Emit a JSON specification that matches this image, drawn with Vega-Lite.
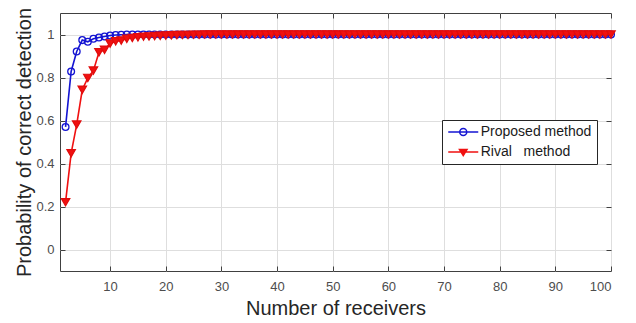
{
  "$schema": "https://vega.github.io/schema/vega-lite/v6.json",
  "autosize": "none",
  "width": 551,
  "height": 258,
  "padding": {"left": 60, "top": 13, "right": 25, "bottom": 52},
  "background": "white",
  "config": {
    "font": "Liberation Sans",
    "view": {"stroke": "#404040", "strokeWidth": 1},
    "legend": {"orient": "none", "legendX": 382, "legendY": 107, "symbolSize": 100, "symbolStrokeWidth": 1.5, "symbolOpacity": 1, "symbolOffset": 9.25, "labelFont": "Liberation Sans", "labelFontSize": 14, "labelColor": "#1a1a1a", "strokeColor": "#262626", "fillColor": "white", "padding": 5, "rowPadding": 6, "labelOffset": 10.5}
  },
  "data": {"values": [
    {"n": 2, "Proposed method": 0.57, "Rival\u00a0\u00a0\u00a0method": 0.22},
    {"n": 3, "Proposed method": 0.828, "Rival\u00a0\u00a0\u00a0method": 0.447},
    {"n": 4, "Proposed method": 0.921, "Rival\u00a0\u00a0\u00a0method": 0.581},
    {"n": 5, "Proposed method": 0.974, "Rival\u00a0\u00a0\u00a0method": 0.743},
    {"n": 6, "Proposed method": 0.966, "Rival\u00a0\u00a0\u00a0method": 0.798},
    {"n": 7, "Proposed method": 0.98, "Rival\u00a0\u00a0\u00a0method": 0.832},
    {"n": 8, "Proposed method": 0.986, "Rival\u00a0\u00a0\u00a0method": 0.917},
    {"n": 9, "Proposed method": 0.991, "Rival\u00a0\u00a0\u00a0method": 0.929},
    {"n": 10, "Proposed method": 0.995, "Rival\u00a0\u00a0\u00a0method": 0.958},
    {"n": 11, "Proposed method": 0.998, "Rival\u00a0\u00a0\u00a0method": 0.968},
    {"n": 12, "Proposed method": 0.999, "Rival\u00a0\u00a0\u00a0method": 0.972},
    {"n": 13, "Proposed method": 1, "Rival\u00a0\u00a0\u00a0method": 0.98},
    {"n": 14, "Proposed method": 1, "Rival\u00a0\u00a0\u00a0method": 0.984},
    {"n": 15, "Proposed method": 1, "Rival\u00a0\u00a0\u00a0method": 0.987},
    {"n": 16, "Proposed method": 1, "Rival\u00a0\u00a0\u00a0method": 0.99},
    {"n": 17, "Proposed method": 1, "Rival\u00a0\u00a0\u00a0method": 0.991},
    {"n": 18, "Proposed method": 1, "Rival\u00a0\u00a0\u00a0method": 0.993},
    {"n": 19, "Proposed method": 1, "Rival\u00a0\u00a0\u00a0method": 0.994},
    {"n": 20, "Proposed method": 1, "Rival\u00a0\u00a0\u00a0method": 0.995},
    {"n": 21, "Proposed method": 1, "Rival\u00a0\u00a0\u00a0method": 0.996},
    {"n": 22, "Proposed method": 1, "Rival\u00a0\u00a0\u00a0method": 0.997},
    {"n": 23, "Proposed method": 1, "Rival\u00a0\u00a0\u00a0method": 0.998},
    {"n": 24, "Proposed method": 1, "Rival\u00a0\u00a0\u00a0method": 0.998},
    {"n": 25, "Proposed method": 1, "Rival\u00a0\u00a0\u00a0method": 0.999},
    {"n": 26, "Proposed method": 1, "Rival\u00a0\u00a0\u00a0method": 0.999},
    {"n": 27, "Proposed method": 1, "Rival\u00a0\u00a0\u00a0method": 1},
    {"n": 28, "Proposed method": 1, "Rival\u00a0\u00a0\u00a0method": 1},
    {"n": 29, "Proposed method": 1, "Rival\u00a0\u00a0\u00a0method": 1},
    {"n": 30, "Proposed method": 1, "Rival\u00a0\u00a0\u00a0method": 1},
    {"n": 31, "Proposed method": 1, "Rival\u00a0\u00a0\u00a0method": 1},
    {"n": 32, "Proposed method": 1, "Rival\u00a0\u00a0\u00a0method": 1},
    {"n": 33, "Proposed method": 1, "Rival\u00a0\u00a0\u00a0method": 1},
    {"n": 34, "Proposed method": 1, "Rival\u00a0\u00a0\u00a0method": 1},
    {"n": 35, "Proposed method": 1, "Rival\u00a0\u00a0\u00a0method": 1},
    {"n": 36, "Proposed method": 1, "Rival\u00a0\u00a0\u00a0method": 1},
    {"n": 37, "Proposed method": 1, "Rival\u00a0\u00a0\u00a0method": 1},
    {"n": 38, "Proposed method": 1, "Rival\u00a0\u00a0\u00a0method": 1},
    {"n": 39, "Proposed method": 1, "Rival\u00a0\u00a0\u00a0method": 1},
    {"n": 40, "Proposed method": 1, "Rival\u00a0\u00a0\u00a0method": 1},
    {"n": 41, "Proposed method": 1, "Rival\u00a0\u00a0\u00a0method": 1},
    {"n": 42, "Proposed method": 1, "Rival\u00a0\u00a0\u00a0method": 1},
    {"n": 43, "Proposed method": 1, "Rival\u00a0\u00a0\u00a0method": 1},
    {"n": 44, "Proposed method": 1, "Rival\u00a0\u00a0\u00a0method": 1},
    {"n": 45, "Proposed method": 1, "Rival\u00a0\u00a0\u00a0method": 1},
    {"n": 46, "Proposed method": 1, "Rival\u00a0\u00a0\u00a0method": 1},
    {"n": 47, "Proposed method": 1, "Rival\u00a0\u00a0\u00a0method": 1},
    {"n": 48, "Proposed method": 1, "Rival\u00a0\u00a0\u00a0method": 1},
    {"n": 49, "Proposed method": 1, "Rival\u00a0\u00a0\u00a0method": 1},
    {"n": 50, "Proposed method": 1, "Rival\u00a0\u00a0\u00a0method": 1},
    {"n": 51, "Proposed method": 1, "Rival\u00a0\u00a0\u00a0method": 1},
    {"n": 52, "Proposed method": 1, "Rival\u00a0\u00a0\u00a0method": 1},
    {"n": 53, "Proposed method": 1, "Rival\u00a0\u00a0\u00a0method": 1},
    {"n": 54, "Proposed method": 1, "Rival\u00a0\u00a0\u00a0method": 1},
    {"n": 55, "Proposed method": 1, "Rival\u00a0\u00a0\u00a0method": 1},
    {"n": 56, "Proposed method": 1, "Rival\u00a0\u00a0\u00a0method": 1},
    {"n": 57, "Proposed method": 1, "Rival\u00a0\u00a0\u00a0method": 1},
    {"n": 58, "Proposed method": 1, "Rival\u00a0\u00a0\u00a0method": 1},
    {"n": 59, "Proposed method": 1, "Rival\u00a0\u00a0\u00a0method": 1},
    {"n": 60, "Proposed method": 1, "Rival\u00a0\u00a0\u00a0method": 1},
    {"n": 61, "Proposed method": 1, "Rival\u00a0\u00a0\u00a0method": 1},
    {"n": 62, "Proposed method": 1, "Rival\u00a0\u00a0\u00a0method": 1},
    {"n": 63, "Proposed method": 1, "Rival\u00a0\u00a0\u00a0method": 1},
    {"n": 64, "Proposed method": 1, "Rival\u00a0\u00a0\u00a0method": 1},
    {"n": 65, "Proposed method": 1, "Rival\u00a0\u00a0\u00a0method": 1},
    {"n": 66, "Proposed method": 1, "Rival\u00a0\u00a0\u00a0method": 1},
    {"n": 67, "Proposed method": 1, "Rival\u00a0\u00a0\u00a0method": 1},
    {"n": 68, "Proposed method": 1, "Rival\u00a0\u00a0\u00a0method": 1},
    {"n": 69, "Proposed method": 1, "Rival\u00a0\u00a0\u00a0method": 1},
    {"n": 70, "Proposed method": 1, "Rival\u00a0\u00a0\u00a0method": 1},
    {"n": 71, "Proposed method": 1, "Rival\u00a0\u00a0\u00a0method": 1},
    {"n": 72, "Proposed method": 1, "Rival\u00a0\u00a0\u00a0method": 1},
    {"n": 73, "Proposed method": 1, "Rival\u00a0\u00a0\u00a0method": 1},
    {"n": 74, "Proposed method": 1, "Rival\u00a0\u00a0\u00a0method": 1},
    {"n": 75, "Proposed method": 1, "Rival\u00a0\u00a0\u00a0method": 1},
    {"n": 76, "Proposed method": 1, "Rival\u00a0\u00a0\u00a0method": 1},
    {"n": 77, "Proposed method": 1, "Rival\u00a0\u00a0\u00a0method": 1},
    {"n": 78, "Proposed method": 1, "Rival\u00a0\u00a0\u00a0method": 1},
    {"n": 79, "Proposed method": 1, "Rival\u00a0\u00a0\u00a0method": 1},
    {"n": 80, "Proposed method": 1, "Rival\u00a0\u00a0\u00a0method": 1},
    {"n": 81, "Proposed method": 1, "Rival\u00a0\u00a0\u00a0method": 1},
    {"n": 82, "Proposed method": 1, "Rival\u00a0\u00a0\u00a0method": 1},
    {"n": 83, "Proposed method": 1, "Rival\u00a0\u00a0\u00a0method": 1},
    {"n": 84, "Proposed method": 1, "Rival\u00a0\u00a0\u00a0method": 1},
    {"n": 85, "Proposed method": 1, "Rival\u00a0\u00a0\u00a0method": 1},
    {"n": 86, "Proposed method": 1, "Rival\u00a0\u00a0\u00a0method": 1},
    {"n": 87, "Proposed method": 1, "Rival\u00a0\u00a0\u00a0method": 1},
    {"n": 88, "Proposed method": 1, "Rival\u00a0\u00a0\u00a0method": 1},
    {"n": 89, "Proposed method": 1, "Rival\u00a0\u00a0\u00a0method": 1},
    {"n": 90, "Proposed method": 1, "Rival\u00a0\u00a0\u00a0method": 1},
    {"n": 91, "Proposed method": 1, "Rival\u00a0\u00a0\u00a0method": 1},
    {"n": 92, "Proposed method": 1, "Rival\u00a0\u00a0\u00a0method": 1},
    {"n": 93, "Proposed method": 1, "Rival\u00a0\u00a0\u00a0method": 1},
    {"n": 94, "Proposed method": 1, "Rival\u00a0\u00a0\u00a0method": 1},
    {"n": 95, "Proposed method": 1, "Rival\u00a0\u00a0\u00a0method": 1},
    {"n": 96, "Proposed method": 1, "Rival\u00a0\u00a0\u00a0method": 1},
    {"n": 97, "Proposed method": 1, "Rival\u00a0\u00a0\u00a0method": 1},
    {"n": 98, "Proposed method": 1, "Rival\u00a0\u00a0\u00a0method": 1},
    {"n": 99, "Proposed method": 1, "Rival\u00a0\u00a0\u00a0method": 1},
    {"n": 100, "Proposed method": 1, "Rival\u00a0\u00a0\u00a0method": 1}
  ]},
  "transform": [{"fold": ["Proposed method", "Rival\u00a0\u00a0\u00a0method"], "as": ["series", "p"]}],
  "resolve": {"axis": {"x": "independent", "y": "independent"}},
  "layer": [
    {
      "transform": [{"filter": {"field": "series", "equal": "Proposed method"}}],
      "mark": {"type": "point", "shape": "circle", "filled": false, "stroke": "#1414d2", "strokeWidth": 1.3, "size": 46, "opacity": 1},
      "encoding": {
        "x": {"field": "n", "type": "quantitative", "scale": {"domain": [1, 100], "nice": false, "zero": false},
          "axis": {"orient": "bottom", "values": [10, 20, 30, 40, 50, 60, 70, 80, 90, 100], "grid": true, "gridColor": "#dedede", "domain": false, "ticks": true, "tickSize": -5, "tickColor": "#404040", "labelColor": "#4d4d4d", "labelFontSize": 13, "labelFont": "Liberation Sans", "labelPadding": 14, "title": "Number of receivers", "titleFont": "Liberation Sans", "titleFontSize": 20, "titleFontWeight": "normal", "titleColor": "#262626", "titlePadding": 5}},
        "y": {"field": "p", "type": "quantitative", "scale": {"domain": [-0.1, 1.1], "nice": false, "zero": false},
          "axis": {"orient": "left", "values": [0, 0.2, 0.4, 0.6, 0.8, 1], "format": "~g", "grid": true, "gridColor": "#dedede", "domain": false, "ticks": true, "tickSize": -5, "tickColor": "#404040", "labelColor": "#4d4d4d", "labelFontSize": 13, "labelFont": "Liberation Sans", "labelPadding": 11, "title": "Probability of correct detection", "titleFont": "Liberation Sans", "titleFontSize": 20, "titleFontWeight": "normal", "titleColor": "#262626", "titlePadding": 1}}
      }
    },
    {
      "transform": [{"filter": {"field": "series", "equal": "Proposed method"}}],
      "mark": {"type": "line", "strokeWidth": 1.6, "stroke": "#1414d2"},
      "encoding": {
        "x": {"field": "n", "type": "quantitative", "axis": {"orient": "top", "values": [10, 20, 30, 40, 50, 60, 70, 80, 90, 100], "grid": false, "domain": false, "labels": false, "ticks": true, "tickSize": -5, "tickColor": "#404040", "title": null}},
        "y": {"field": "p", "type": "quantitative", "axis": {"orient": "right", "values": [0, 0.2, 0.4, 0.6, 0.8, 1], "grid": false, "domain": false, "labels": false, "ticks": true, "tickSize": -5, "tickColor": "#404040", "title": null}}
      }
    },
    {
      "transform": [{"filter": {"field": "series", "equal": "Rival\u00a0\u00a0\u00a0method"}}],
      "mark": {"type": "line", "strokeWidth": 1.6, "stroke": "#f01010"},
      "encoding": {
        "x": {"field": "n", "type": "quantitative", "axis": null},
        "y": {"field": "p", "type": "quantitative", "axis": null}
      }
    },
    {
      "transform": [{"filter": {"field": "series", "equal": "Rival\u00a0\u00a0\u00a0method"}}],
      "mark": {"type": "point", "shape": "triangle-down", "filled": true, "fill": "#f01010", "stroke": "#e00c0c", "strokeWidth": 1.2, "size": 72, "opacity": 1},
      "encoding": {
        "x": {"field": "n", "type": "quantitative", "axis": null},
        "y": {"field": "p", "type": "quantitative", "axis": null}
      }
    },
    {
      "mark": {"type": "point", "opacity": 0},
      "encoding": {
        "x": {"field": "n", "type": "quantitative", "axis": null},
        "y": {"field": "p", "type": "quantitative", "axis": null},
        "shape": {"field": "series", "type": "nominal", "scale": {"domain": ["Proposed method", "Rival\u00a0\u00a0\u00a0method"], "range": ["M-3,0H3M-0.7,0A0.7,0.7,0,1,1,0.7,0A0.7,0.7,0,1,1,-0.7,0Z", "M-3,0H3M-0.75,-0.5L0.75,-0.5L0,0.7Z"]}, "legend": {"title": null}},
        "stroke": {"field": "series", "type": "nominal", "scale": {"domain": ["Proposed method", "Rival\u00a0\u00a0\u00a0method"], "range": ["#1414d2", "#f01010"]}, "legend": {"title": null}},
        "fill": {"field": "series", "type": "nominal", "scale": {"domain": ["Proposed method", "Rival\u00a0\u00a0\u00a0method"], "range": ["rgba(0,0,0,0)", "#f01010"]}, "legend": {"title": null}}
      }
    }
  ]
}
